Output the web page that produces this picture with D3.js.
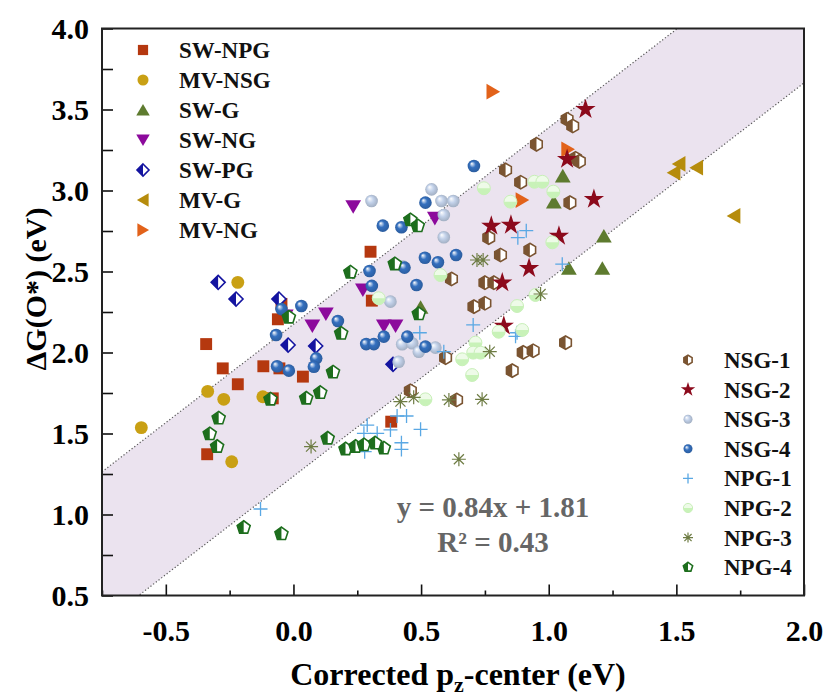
<!DOCTYPE html>
<html>
<head>
<meta charset="utf-8">
<script src="https://cdn.jsdelivr.net/npm/d3@7"></script>
<style>
  body { margin: 0; background: #fff; }
  text { font-family: "Liberation Serif", "Times New Roman", serif; font-weight: bold; }
</style>
</head>
<body>
<div id="chart"></div>
<script>
// series values, [x, y] pairs
const SW_NPG = [[-0.342,2.052],[-0.277,1.902],[-0.218,1.804],[-0.118,1.915],[-0.055,1.902],[0.037,1.851],[-0.081,1.717],[-0.061,2.205],[-0.047,2.30],[-0.338,1.372],[0.302,2.622],[0.307,2.32],[0.383,1.573]];
const MV_NSG = [[-0.218,2.433],[-0.336,1.76],[-0.273,1.711],[-0.12,1.727],[-0.596,1.536],[-0.242,1.326]];
const SW_G = [[1.055,3.09],[1.02,2.93],[1.079,2.52],[1.21,2.52],[1.216,2.719],[0.498,2.279]];
const SW_NG = [[0.234,2.90],[0.554,2.828],[0.272,2.386],[0.354,2.164],[0.40,2.164],[0.127,2.238],[0.074,2.164],[-0.03,2.225]];
const SW_PG = [[-0.295,2.433],[-0.225,2.33],[-0.057,2.33],[-0.021,2.046],[0.087,2.04],[0.39,1.927]];
const MV_G = [[1.51,3.164],[1.49,3.11],[1.579,3.141],[1.725,2.843]];
const MV_NG = [[0.782,3.61],[0.896,2.941],[1.075,3.254]];
const NSG_1 = [[1.072,3.44],[1.094,3.398],[0.952,3.285],[0.831,3.127],[0.89,3.051],[1.083,2.925],[1.105,3.199],[1.12,3.18],[0.765,2.709],[0.926,2.633],[0.811,2.602],[0.619,2.454],[0.75,2.431],[0.785,2.431],[0.707,2.283],[0.75,2.304],[1.066,2.061],[0.9,2.001],[0.939,2.011],[0.857,1.888],[0.596,1.968],[0.458,1.764],[0.639,1.707]];
const NSG_2 = [[1.144,3.501],[1.072,3.193],[1.177,2.946],[1.04,2.719],[0.775,2.781],[0.852,2.787],[0.923,2.52],[0.818,2.431],[0.824,2.164]];
const NSG_3 = [[0.306,2.935],[0.541,3.007],[0.58,2.935],[0.626,2.935],[0.589,2.849],[0.589,2.711],[0.38,2.314],[0.426,2.051],[0.465,2.057],[0.491,2.005],[0.556,2.03],[0.412,1.943],[0.43,2.53]];
const NSG_4 = [[0.707,3.151],[0.517,2.925],[0.35,2.783],[0.423,2.773],[0.515,2.585],[0.566,2.557],[0.637,2.602],[0.298,2.503],[0.435,2.524],[0.307,2.411],[0.482,2.417],[0.174,2.194],[0.354,2.098],[0.285,2.052],[0.315,2.052],[0.446,2.098],[0.517,2.036],[-0.047,2.268],[0.031,2.287],[-0.068,2.108],[0.089,1.964],[0.08,1.912],[-0.064,1.915],[-0.018,1.888]];
const NPG_1 = [[0.912,2.752],[0.879,2.709],[1.053,2.545],[0.704,2.17],[0.495,2.122],[0.589,2.005],[0.876,2.122],[0.87,2.10],[0.406,1.608],[0.443,1.608],[0.289,1.552],[0.328,1.501],[0.276,1.501],[0.38,1.522],[0.498,1.526],[0.423,1.443],[0.423,1.402],[0.279,1.388],[-0.129,1.034]];
const NPG_2 = [[0.746,3.014],[0.85,2.931],[0.944,3.054],[0.975,3.054],[1.018,2.993],[1.014,2.68],[0.576,2.478],[0.334,2.335],[0.948,2.355],[0.876,2.287],[0.804,2.128],[0.896,2.139],[0.713,2.061],[0.661,1.958],[0.704,1.999],[0.733,1.999],[0.70,1.861],[0.517,1.711]];
const NPG_3 = [[0.719,2.571],[0.743,2.571],[0.968,2.361],[0.769,2.005],[0.419,1.697],[0.471,1.723],[0.609,1.707],[0.739,1.711],[0.648,1.341],[0.069,1.419]];
const NPG_4 = [[0.223,2.495],[-0.018,2.217],[0.187,2.118],[0.155,1.878],[0.105,1.752],[0.05,1.717],[-0.09,1.711],[-0.293,1.594],[-0.328,1.497],[-0.299,1.419],[0.134,1.47],[0.204,1.404],[-0.195,0.919],[-0.047,0.88],[0.397,2.546],[0.458,2.818],[0.487,2.781],[0.491,2.238],[0.243,1.419],[0.276,1.429],[0.354,1.409],[0.32,1.44]];

// band edges (slope, intercept) and fit text
const bandUpper = [1.214, 2.174];
const bandLower = [1.214, 1.236];
const fitLines = ["y = 0.84x + 1.81", "R\u00b2 = 0.43"];

const xTicks = [-0.5, 0.0, 0.5, 1.0, 1.5, 2.0];
const yTicks = [0.5, 1.0, 1.5, 2.0, 2.5, 3.0, 3.5, 4.0];

const series = [
  {name: "SW-NPG", data: SW_NPG, shape: "square",  color: "#b5380f"},
  {name: "MV-NSG", data: MV_NSG, shape: "circle",  color: "#c9a014"},
  {name: "SW-G",   data: SW_G,   shape: "triUp",   color: "#5e7b2f"},
  {name: "SW-NG",  data: SW_NG,  shape: "triDown", color: "#8c0a9c"},
  {name: "SW-PG",  data: SW_PG,  shape: "halfDiamond", color: "#1414a0"},
  {name: "MV-G",   data: MV_G,   shape: "triLeft", color: "#b68c0c"},
  {name: "MV-NG",  data: MV_NG,  shape: "triRight", color: "#e2621a"},
  {name: "NSG-1",  data: NSG_1,  shape: "halfHex", color: "#7a5431"},
  {name: "NSG-2",  data: NSG_2,  shape: "star",    color: "#8c0a1c"},
  {name: "NSG-3",  data: NSG_3,  shape: "sphere",  color: "#c3d2ea"},
  {name: "NSG-4",  data: NSG_4,  shape: "sphere",  color: "#3470bf"},
  {name: "NPG-1",  data: NPG_1,  shape: "plus",    color: "#5aa8e4"},
  {name: "NPG-2",  data: NPG_2,  shape: "halfCircle", color: "#c8f2b8"},
  {name: "NPG-3",  data: NPG_3,  shape: "asterisk", color: "#6e7c44"},
  {name: "NPG-4",  data: NPG_4,  shape: "halfPent", color: "#1d6e1d"}
];

const W = 829, H = 698;
const margin = {top: 28.5, right: 25, bottom: 102.5, left: 102};

const svg = d3.select("#chart").append("svg")
  .attr("width", W).attr("height", H);

const defs = svg.append("defs");

const x = d3.scaleLinear().domain([-0.75, 2.0]).range([margin.left, W - margin.right]);
const y = d3.scaleLinear().domain([0.5, 4.0]).range([H - margin.bottom, margin.top]);

// sphere gradients
series.filter(s => s.shape === "sphere").forEach((s, i) => {
  s.grad = "sph" + i;
  const g = defs.append("radialGradient").attr("id", s.grad)
    .attr("cx", "50%").attr("cy", "50%").attr("r", "55%")
    .attr("fx", "32%").attr("fy", "30%");
  g.append("stop").attr("offset", "0%").attr("stop-color", "#ffffff");
  g.append("stop").attr("offset", "45%").attr("stop-color", s.color);
  g.append("stop").attr("offset", "100%").attr("stop-color", d3.color(s.color).darker(0.6));
});

defs.append("clipPath").attr("id", "plotClip")
  .append("rect")
  .attr("x", x(-0.75)).attr("y", y(4.0))
  .attr("width", x(2.0) - x(-0.75)).attr("height", y(0.5) - y(4.0));

// shaded band
const bandX = [-0.75, 2.0];
const band = svg.append("g").attr("clip-path", "url(#plotClip)");
band.append("path")
  .datum(bandX)
  .attr("fill", "#ebe3ef")
  .attr("d", d3.area()
    .x(d => x(d))
    .y0(d => y(bandLower[0] * d + bandLower[1]))
    .y1(d => y(bandUpper[0] * d + bandUpper[1])));
[bandUpper, bandLower].forEach(p => {
  band.append("path")
    .datum(bandX)
    .attr("fill", "none")
    .attr("stroke", "#555")
    .attr("stroke-width", 1.2)
    .attr("stroke-dasharray", "1.2,2.2")
    .attr("d", d3.line().x(d => x(d)).y(d => y(p[0] * d + p[1])));
});

// polygon helpers
function poly(n, r, rot) {
  return d3.range(n).map(i => {
    const a = rot + i * 2 * Math.PI / n;
    return [r * Math.cos(a), r * Math.sin(a)];
  });
}
function leftHalf(pts) {
  // keep the x <= 0 side
  const out = [];
  for (let i = 0; i < pts.length; i++) {
    const a = pts[i], b = pts[(i + 1) % pts.length];
    const ain = a[0] <= 0, bin = b[0] <= 0;
    if (ain) out.push(a);
    if (ain !== bin) {
      const t = a[0] / (a[0] - b[0]);
      out.push([0, a[1] + t * (b[1] - a[1])]);
    }
  }
  return out;
}
const toPath = pts => "M" + pts.map(p => p[0].toFixed(2) + "," + p[1].toFixed(2)).join("L") + "Z";

function drawMarker(g, s, r) {
  const c = s.color;
  const tr = r * 1.3;
  switch (s.shape) {
    case "square":
      g.append("rect").attr("x", -r * 0.85).attr("y", -r * 0.85)
        .attr("width", r * 1.7).attr("height", r * 1.7).attr("fill", c);
      break;
    case "circle":
      g.append("circle").attr("r", r * 0.92).attr("fill", c);
      break;
    case "triUp":
      g.append("path").attr("d", toPath(poly(3, tr, -Math.PI / 2))).attr("fill", c)
        .attr("transform", "translate(0," + (tr * 0.22) + ")");
      break;
    case "triDown":
      g.append("path").attr("d", toPath(poly(3, tr, Math.PI / 2))).attr("fill", c)
        .attr("transform", "translate(0," + (-tr * 0.22) + ")");
      break;
    case "triLeft":
      g.append("path").attr("d", toPath(poly(3, tr, Math.PI))).attr("fill", c)
        .attr("transform", "translate(" + (tr * 0.22) + ",0)");
      break;
    case "triRight":
      g.append("path").attr("d", toPath(poly(3, tr, 0))).attr("fill", c)
        .attr("transform", "translate(" + (-tr * 0.22) + ",0)");
      break;
    case "halfDiamond":
    case "halfHex":
    case "halfPent": {
      const pts = s.shape === "halfDiamond" ? poly(4, r * 1.0, -Math.PI / 2)
        : s.shape === "halfHex" ? poly(6, r * 0.95, -Math.PI / 2)
        : poly(5, r * 0.98, -Math.PI / 2);
      g.append("path").attr("d", toPath(pts)).attr("fill", "#fff")
        .attr("stroke", c).attr("stroke-width", 1.6);
      g.append("path").attr("d", toPath(leftHalf(pts))).attr("fill", c);
      break;
    }
    case "star":
      g.append("path").attr("d", d3.symbol(d3.symbolStar, r * r * 2.6)()).attr("fill", c);
      break;
    case "sphere":
      g.append("circle").attr("r", r * 0.9).attr("fill", "url(#" + s.grad + ")");
      break;
    case "plus":
      g.append("path").attr("d", `M${-r},0H${r}M0,${-r}V${r}`)
        .attr("stroke", c).attr("stroke-width", 1.3).attr("fill", "none");
      break;
    case "halfCircle": {
      const rr = r * 0.92;
      g.append("circle").attr("r", rr).attr("fill", "#eefbe8")
        .attr("stroke", "#c8efb8").attr("stroke-width", 1);
      g.append("path").attr("d", `M${-rr},0A${rr},${rr} 0 0 0 ${rr},0Z`).attr("fill", c);
      break;
    }
    case "asterisk": {
      const a = r * 0.72;
      g.append("path").attr("d", `M${-r},0H${r}M0,${-r}V${r}M${-a},${-a}L${a},${a}M${-a},${a}L${a},${-a}`)
        .attr("stroke", c).attr("stroke-width", 1.2).attr("fill", "none");
      break;
    }
  }
}

// points
const pts = svg.append("g").attr("clip-path", "url(#plotClip)");
series.forEach(s => {
  pts.selectAll(null).data(s.data).join("g")
    .attr("transform", d => `translate(${x(d[0])},${y(d[1])})`)
    .each(function () { drawMarker(d3.select(this), s, 7); });
});

// axes
const fmt = d => d.toFixed(1);
const xMinor = d3.range(-0.75, 2.01, 0.25).filter(v => Math.abs(v * 2 - Math.round(v * 2)) > 0.01);
const yMinor = d3.range(0.75, 4.0, 0.5);

svg.append("g").attr("transform", `translate(0,${y(0.5)})`)
  .call(d3.axisBottom(x).tickValues(xMinor).tickSize(-5).tickFormat(""))
  .call(g => g.select(".domain").remove())
  .selectAll("line").attr("stroke", "#111").attr("stroke-width", 1.6);
svg.append("g").attr("transform", `translate(0,${y(0.5)})`)
  .call(d3.axisBottom(x).tickValues(xTicks).tickSize(-11).tickPadding(24).tickFormat(fmt))
  .call(g => g.select(".domain").remove())
  .call(g => g.selectAll("line").attr("stroke", "#111").attr("stroke-width", 1.6))
  .call(g => g.selectAll("text").attr("font-size", 30).attr("fill", "#000")
    .attr("font-family", "Liberation Serif, serif").attr("font-weight", "bold"));

svg.append("g").attr("transform", `translate(${x(-0.75)},0)`)
  .call(d3.axisLeft(y).tickValues(yMinor).tickSize(-11).tickFormat(""))
  .call(g => g.select(".domain").remove())
  .selectAll("line").attr("stroke", "#111").attr("stroke-width", 1.6);
svg.append("g").attr("transform", `translate(${x(-0.75)},0)`)
  .call(d3.axisLeft(y).tickValues(yTicks).tickSize(-11).tickPadding(13).tickFormat(fmt))
  .call(g => g.select(".domain").remove())
  .call(g => g.selectAll("line").attr("stroke", "#111").attr("stroke-width", 1.6))
  .call(g => g.selectAll("text").attr("font-size", 30).attr("fill", "#000")
    .attr("font-family", "Liberation Serif, serif").attr("font-weight", "bold"));

// frame
svg.append("rect")
  .attr("x", x(-0.75)).attr("y", y(4.0))
  .attr("width", x(2.0) - x(-0.75)).attr("height", y(0.5) - y(4.0))
  .attr("fill", "none").attr("stroke", "#222").attr("stroke-width", 2);

// axis titles
const xt = svg.append("text")
  .attr("x", 458).attr("y", 685)
  .attr("text-anchor", "middle").attr("font-size", 32).attr("fill", "#000");
xt.append("tspan").text("Corrected p");
xt.append("tspan").attr("font-size", 22).attr("dy", 7).text("z");
xt.append("tspan").attr("dy", -7).text("-center (eV)");

svg.append("text")
  .attr("transform", "translate(46,289) rotate(-90)")
  .attr("text-anchor", "middle").attr("font-size", 30).attr("fill", "#000")
  .text("\u0394G(O*) (eV)");

// fit text
svg.selectAll(".fit").data(fitLines).join("text")
  .attr("class", "fit")
  .attr("x", 493).attr("y", (d, i) => 517 + i * 35)
  .attr("text-anchor", "middle").attr("font-size", 29).attr("fill", "#666")
  .text(d => d);

// legends
function legend(items, x0, y0, dy, r) {
  const g = svg.append("g");
  items.forEach((s, i) => {
    const row = g.append("g").attr("transform", `translate(${x0},${y0 + i * dy})`);
    drawMarker(row.append("g"), s, r);
    row.append("text").attr("x", 36).attr("y", 8)
      .attr("font-size", 23).attr("fill", "#111").text(s.name);
  });
}
legend(series.slice(0, 7), 143, 50, 30, 6);
legend(series.slice(7), 688, 360, 29.6, 5);
</script>
</body>
</html>
